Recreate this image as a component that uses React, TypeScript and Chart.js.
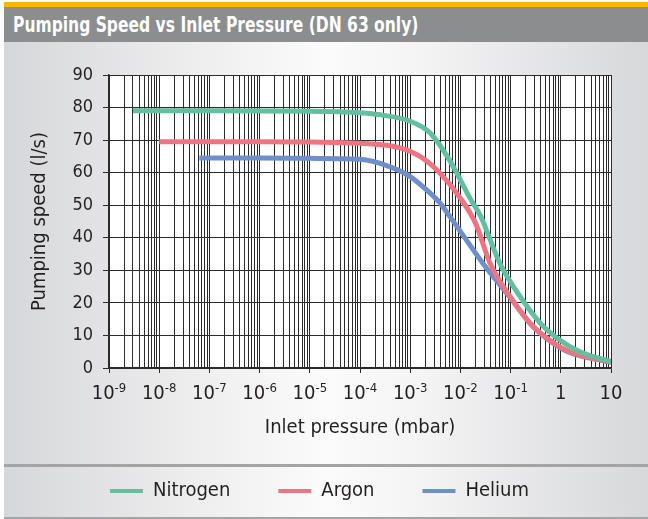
import React, { useEffect, useRef } from 'react';
import { Chart, registerables } from 'chart.js';

Chart.register(...registerables);

// ---- Data ----
const TITLE = 'Pumping Speed vs Inlet Pressure (DN 63 only)';
const X_TITLE = 'Inlet pressure (mbar)';
const Y_TITLE = 'Pumping speed (l/s)';
const SERIES_NAMES = ['Nitrogen', 'Argon', 'Helium'];
const SERIES_COLORS = ['#62bf9f', '#ee7482', '#6f8fcb'];

const NITROGEN_P = [3e-9, 1e-7, 1e-5, 1e-4, 3e-4, 1e-3, 2.5e-3, 6e-3, 1.6e-2, 2.5e-2, 6e-2, 1.55e-1, 3.9e-1, 9.5e-1, 2.4, 10];
const NITROGEN_S = [79, 79, 78.9, 78.4, 77.6, 75.8, 72.2, 64.0, 51.8, 46.8, 32.4, 21.9, 13.8, 8.6, 5.0, 2.0];

const ARGON_P = [1e-8, 1e-6, 1e-5, 1e-4, 6.3e-4, 1.6e-3, 3.9e-3, 1e-2, 2e-2, 3.9e-2, 9.8e-2, 0.245, 0.6, 1.5, 10];
const ARGON_S = [69.5, 69.5, 69.4, 69.0, 67.6, 64.9, 59.9, 52.2, 44.5, 32.2, 21.9, 13.8, 8.6, 5.0, 1.8];

const HELIUM_P = [6.3e-8, 1e-6, 1e-5, 1e-4, 4e-4, 1e-3, 2.5e-3, 3.9e-3, 6.2e-3, 2.8e-2, 0.1, 0.25, 0.6, 1.5, 10];
const HELIUM_S = [64.5, 64.5, 64.4, 64.1, 61.8, 58.8, 53.7, 50.7, 46.5, 32.2, 21.5, 13.5, 8.4, 4.8, 1.8];

const DECADE_EXPONENTS = [-9, -8, -7, -6, -5, -4, -3, -2, -1, 0, 1];
const MINOR_MULTIPLIERS = [2, 3, 4, 5, 6, 7, 8, 9];
const Y_MIN = 0;
const Y_MAX = 90;
const Y_STEP = 10;

// ---- Styles ----
const FONT = '"Liberation Sans Narrow", "Arial Narrow", "DejaVu Sans Condensed", sans-serif';
const TEXT = '#231f20';
const GRID = '#2b2b2b';

const toPoints = (p: number[], s: number[]) => p.map((x, i) => ({ x, y: s[i] }));

const buildXTicks = () => {
  const ticks: { value: number; major: boolean }[] = [];
  DECADE_EXPONENTS.forEach((e) => {
    ticks.push({ value: Number(Math.pow(10, e).toPrecision(12)), major: true });
    if (e < DECADE_EXPONENTS[DECADE_EXPONENTS.length - 1]) {
      MINOR_MULTIPLIERS.forEach((m) => {
        ticks.push({ value: Number((m * Math.pow(10, e)).toPrecision(12)), major: false });
      });
    }
  });
  return ticks;
};

const plotBgPlugin = {
  id: 'plotBg',
  beforeDraw(chart: any) {
    const { ctx, chartArea } = chart;
    ctx.save();
    ctx.fillStyle = '#ffffff';
    ctx.fillRect(chartArea.left, chartArea.top, chartArea.right - chartArea.left, chartArea.bottom - chartArea.top);
    ctx.restore();
  },
};

const xLabelPlugin = {
  id: 'xSupLabels',
  afterDraw(chart: any) {
    const sx = chart.scales.x;
    const ctx = chart.ctx;
    const base = chart.chartArea.bottom;
    ctx.save();
    ctx.fillStyle = TEXT;
    ctx.textBaseline = 'alphabetic';
    ctx.textAlign = 'left';
    DECADE_EXPONENTS.forEach((e) => {
      const px = sx.getPixelForValue(Math.pow(10, e));
      const mainText = e === 0 ? '1' : '10';
      const supText = e < 0 ? String(e) : '';
      ctx.font = `20px ${FONT}`;
      const w1 = ctx.measureText(mainText).width;
      ctx.font = `13px ${FONT}`;
      const w2 = supText ? ctx.measureText(supText).width : 0;
      const start = px - (w1 + w2) / 2;
      ctx.font = `20px ${FONT}`;
      ctx.fillText(mainText, start, base + 31);
      if (supText) {
        ctx.font = `13px ${FONT}`;
        ctx.fillText(supText, start + w1, base + 24);
      }
    });
    ctx.restore();
  },
};

export default function App() {
  const canvasRef = useRef<HTMLCanvasElement | null>(null);

  useEffect(() => {
    if (!canvasRef.current) return;
    const seriesP = [NITROGEN_P, ARGON_P, HELIUM_P];
    const seriesS = [NITROGEN_S, ARGON_S, HELIUM_S];
    const chart = new Chart(canvasRef.current, {
      type: 'line',
      data: {
        datasets: SERIES_NAMES.map((name, i) => ({
          label: name,
          data: toPoints(seriesP[i], seriesS[i]),
          borderColor: SERIES_COLORS[i],
          backgroundColor: SERIES_COLORS[i],
          borderWidth: 5,
          pointRadius: 0,
          pointHoverRadius: 0,
          fill: false,
          cubicInterpolationMode: 'monotone',
          borderCapStyle: 'butt',
        })),
      },
      options: {
        animation: false,
        responsive: false,
        events: [],
        layout: { padding: { top: 33, left: 28, right: 37, bottom: 8 } },
        scales: {
          x: {
            type: 'logarithmic',
            min: 1e-9,
            max: 10,
            afterBuildTicks: (scale: any) => {
              scale.ticks = buildXTicks();
            },
            afterFit: (scale: any) => {
              scale.height = 65;
            },
            ticks: {
              autoSkip: false,
              maxRotation: 0,
              callback: () => '',
            },
            grid: {
              color: GRID,
              lineWidth: 1,
              tickLength: 5,
              tickColor: (ctx: any) => (ctx.tick && ctx.tick.major ? GRID : 'rgba(0,0,0,0)'),
            },
            border: { color: GRID, width: 1.5 },
            title: {
              display: true,
              text: X_TITLE,
              color: TEXT,
              font: { family: FONT, size: 20, lineHeight: 0.5 },
              padding: { top: 0, bottom: 0 },
            },
          },
          y: {
            type: 'linear',
            min: Y_MIN,
            max: Y_MAX,
            afterFit: (scale: any) => {
              scale.width = 81;
            },
            ticks: {
              stepSize: Y_STEP,
              color: TEXT,
              padding: 10,
              font: { family: FONT, size: 18 },
            },
            grid: {
              color: GRID,
              lineWidth: 1,
              tickLength: 6,
              tickColor: GRID,
            },
            border: { color: GRID, width: 1.5 },
            title: {
              display: true,
              text: Y_TITLE,
              color: TEXT,
              font: { family: FONT, size: 20 },
              padding: { top: 0, bottom: 0 },
            },
          },
        },
        plugins: {
          tooltip: { enabled: false },
          title: { display: false },
          legend: {
            display: true,
            position: 'bottom',
            labels: {
              color: TEXT,
              font: { family: FONT, size: 20 },
              boxWidth: 33,
              boxHeight: 4,
              padding: 48,
              generateLabels: (c: any) =>
                c.data.datasets.map((ds: any, i: number) => ({
                  text: ds.label,
                  fillStyle: ds.borderColor,
                  strokeStyle: ds.borderColor,
                  lineWidth: 0,
                  hidden: false,
                  datasetIndex: i,
                  fontColor: TEXT,
                })),
            },
          },
        },
      },
      plugins: [plotBgPlugin, xLabelPlugin],
    } as any);
    return () => chart.destroy();
  }, []);

  return (
    <div style={{ position: 'fixed', left: 0, top: 0, width: 648, height: 519, background: '#ffffff', overflow: 'hidden' }}>
      <div style={{ position: 'absolute', left: 4, top: 2, width: 644, height: 5, background: '#f9b700' }} />
      <div
        style={{
          position: 'absolute',
          left: 4,
          top: 7,
          width: 644,
          height: 35,
          background: '#8b8d8f',
        }}
      >
        <div
          style={{
            position: 'absolute',
            left: 9,
            top: 0,
            height: 35,
            color: '#ffffff',
            fontFamily: FONT,
            fontWeight: 'bold',
            fontSize: 22,
            lineHeight: '35px',
            whiteSpace: 'nowrap',
            transform: 'scaleX(0.785)',
            transformOrigin: '0 50%',
          }}
        >
          {TITLE}
        </div>
      </div>
      <div
        style={{
          position: 'absolute',
          left: 4,
          top: 42,
          width: 644,
          height: 477,
          background: 'linear-gradient(to right, #d6d7d9 0%, #eeeeef 30%, #fbfbfb 50%, #f4f4f5 65%, #d7d8da 100%)',
        }}
      />
      <div style={{ position: 'absolute', left: 4, top: 464, width: 644, height: 2.5, background: '#a4a4a4' }} />
      <div style={{ position: 'absolute', left: 4, top: 516.5, width: 644, height: 2.5, background: '#a4a4a4' }} />
      <canvas ref={canvasRef} width={648} height={477} style={{ position: 'absolute', left: 0, top: 42, width: 648, height: 477 }} />
    </div>
  );
}
